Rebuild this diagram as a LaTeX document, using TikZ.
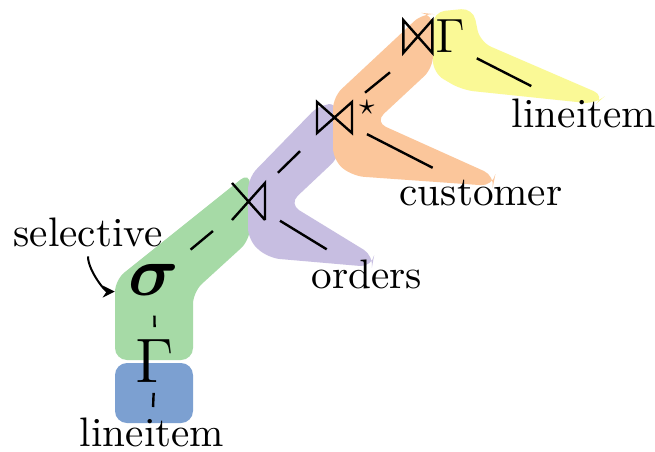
\RequirePackage{fix-cm}
\documentclass[tikz,border=0pt]{standalone}
\usetikzlibrary{arrows.meta}
\definecolor{hlgreen}{RGB}{166,218,166}
\definecolor{hlblue}{RGB}{124,160,209}
\definecolor{hlpurple}{RGB}{199,190,225}
\definecolor{hlorange}{RGB}{251,198,155}
\definecolor{hlyellow}{RGB}{250,249,150}
\tikzset{
  hl/.style={rounded corners=3pt},
  opline/.style={line width=0.6pt},
  dedge/.style={line width=0.6pt},
  sedge/.style={line width=0.6pt},
  lbl/.style={font=\fontsize{10.3}{12}\selectfont, inner sep=0pt, outer sep=0pt, anchor=base},
  opnode/.style={inner sep=0pt, outer sep=0pt},
  arr/.style={line width=0.5pt, -{Stealth[length=3pt,width=3pt]}}
}
\begin{document}
\begin{tikzpicture}[x=0.25pt,y=-0.25pt]
\useasboundingbox[fill=white] (0,0) rectangle (655,451);

% highlights
\fill[hlblue, hl] (115,363) rectangle (193,423);
\fill[hlgreen, hl] (115,360) -- (193,360) -- (193,292) -- (250,240) -- (250,172) -- (115,280) -- cycle;
\fill[hlpurple, hl] (248,178) -- (320,104) -- (340,104) -- (340,156) -- (289,204) -- (374,256) -- (372,267) -- (268,258) -- (248,240) -- cycle;
\fill[hlyellow, hl] (433,12) -- (473,8) -- (480,42) -- (605,96) -- (596,104) -- (462,90) -- (433,73) -- cycle;
\fill[hlorange, hl] (333,97) -- (423,13) -- (433,14) -- (433,68) -- (375,122) -- (495,176) -- (493,186) -- (352,176) -- (333,160) -- cycle;

% nodes
\node[lbl] (lb) at (152,446) {lineitem};
\node[opnode, font=\fontsize{15.7}{18}\selectfont] (g1) at (155,361) {$\Gamma$};
\node[opnode, font=\fontsize{17.5}{20}\selectfont\boldmath] (s) at (154,280) {$\sigma$};
\node[opnode, minimum width=8.25pt, minimum height=9.25pt] (j1) at (248.5,201.5) {};
\node[opnode, minimum width=8.75pt, minimum height=7.75pt] (j2) at (334.5,117.5) {};
\node[opnode, font=\fontsize{7.5}{8}\selectfont] (st) at (367,108) {$\star$};
\node[opnode, font=\fontsize{12}{14}\selectfont] (j3) at (434,36.5) {\hspace*{8pt}$\Gamma$};
\node[lbl] (ord) at (367,288) {orders};
\node[lbl] (cust) at (481,205) {customer};
\node[lbl] (lt) at (584,127) {lineitem};
\node[lbl] (sel) at (88,246) {selective};

% operator glyphs
\draw[opline] (j1.north west) -- (j1.south east) (j1.south west) -- (j1.north east) -- (j1.south east);
\draw[opline] (j2.north west) -- (j2.south east) -- (j2.north east) -- (j2.south west) -- cycle;
\draw[opline] (j3.north west) -- ([xshift=7.25pt]j3.south west) -- ([xshift=7.25pt]j3.north west) -- (j3.south west) -- cycle;

% dashed tree edges
\draw[dedge, shorten <=2.6pt, shorten >=2.6pt] (lb) -- (g1);
\draw[dedge, shorten <=3.1pt, shorten >=5pt] (g1) -- (s);
\draw[dedge, shorten <=5.8pt, shorten >=6.2pt] (s) -- (j1);
\draw[dedge, shorten <=4.5pt, shorten >=6.5pt] (j1) -- (j2);
\draw[dedge, shorten <=4.2pt, shorten >=7.7pt] (j2) -- (j3);

% solid edges to relations
\draw[sedge, shorten <=4.4pt, shorten >=4.85pt] (j1) -- (ord);
\draw[sedge, shorten <=4.2pt, shorten >=6.5pt] (j2) -- (cust);
\draw[sedge, shorten <=3.4pt, shorten >=6.8pt] (j3) -- (lt);

% annotation arrow
\draw[arr, shorten <=2.5pt, shorten >=3.5pt] (sel) to[out=-90, in=180] ([yshift=1pt]s.south west);
\end{tikzpicture}
\end{document}
